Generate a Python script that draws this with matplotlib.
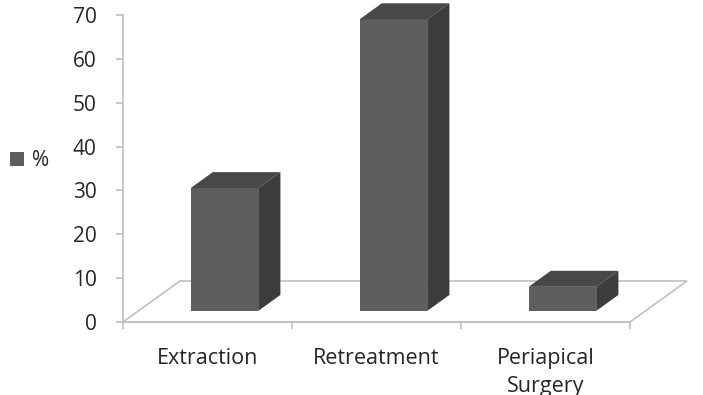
import matplotlib.pyplot as plt
from matplotlib.patches import Polygon

# ~~~~~~~~ data ~~~~~~~~
categories = ["Extraction", "Retreatment", "Periapical\nSurgery"]
percent = [28, 66.5, 5.5]
yticks = [0, 10, 20, 30, 40, 50, 60, 70]

# ~~~~~~~~ style ~~~~~~~~
plt.rcParams['font.family'] = ['Open Sans', 'DejaVu Sans']
front_col = '#5e5e5e'
top_col = '#484848'
side_col = '#3c3c3c'
line_col = '#c0c0c0'
text_col = '#262626'

# fake 3d: floor depth vector and where the bars sit inside it
floor_dx, floor_dy = 0.337, 9.35
d0, d1 = 0.27, 0.66
bar_w = 0.40
shift = 0.10

fig = plt.figure(figsize=(7.03, 3.95), dpi=100)
ax = fig.add_axes([123 / 703, 73 / 395, 507 / 703, 307 / 395])
ax.set_xlim(0, 3)
ax.set_ylim(0, 70)

# floor
floor = Polygon([(0, 0), (3, 0), (3 + floor_dx, floor_dy), (floor_dx, floor_dy)],
                closed=True, fill=False, edgecolor=line_col, lw=1.2,
                clip_on=False, zorder=1)
ax.add_patch(floor)

# bars
ox, oy = d0 * floor_dx, d0 * floor_dy
dx, dy = (d1 - d0) * floor_dx, (d1 - d0) * floor_dy
xs = [i + 0.5 + shift for i in range(len(categories))]
ax.bar(xs, percent, width=bar_w, bottom=oy, color=front_col, label='%',
       zorder=3, clip_on=False)
for x, v in zip(xs, percent):
    xl, xr = x - bar_w / 2, x + bar_w / 2
    base, top = oy, oy + v
    ax.add_patch(Polygon([(xl, top), (xr, top), (xr + dx, top + dy), (xl + dx, top + dy)],
                         closed=True, color=top_col, lw=0, zorder=3, clip_on=False))
    ax.add_patch(Polygon([(xr, base), (xr + dx, base + dy), (xr + dx, top + dy), (xr, top)],
                         closed=True, color=side_col, lw=0, zorder=3, clip_on=False))

# axes
for s in ['top', 'right']:
    ax.spines[s].set_visible(False)
for s in ['left', 'bottom']:
    ax.spines[s].set_color(line_col)
    ax.spines[s].set_linewidth(1.2)
ax.set_yticks(yticks)
ax.tick_params(axis='y', colors=line_col, labelcolor=text_col, labelsize=15,
               length=5, width=1.2, pad=14)
ax.set_xticks([0, 1, 2, 3])
ax.set_xticklabels([])
ax.set_xticks([i + 0.5 for i in range(len(categories))], minor=True)
ax.set_xticklabels(categories, minor=True, fontsize=15.5, color=text_col,
                   linespacing=1.4)
ax.tick_params(axis='x', which='major', colors=line_col, length=5, width=1.2)
ax.tick_params(axis='x', which='minor', length=0, pad=19)

ax.legend(loc='center left', bbox_to_anchor=(10 / 703, 0.594),
          bbox_transform=fig.transFigure, frameon=False, fontsize=15,
          handlelength=0.65, handleheight=0.65, handletextpad=0.4,
          borderpad=0, borderaxespad=0, labelcolor=text_col)

fig.savefig('out.png', dpi=100)
